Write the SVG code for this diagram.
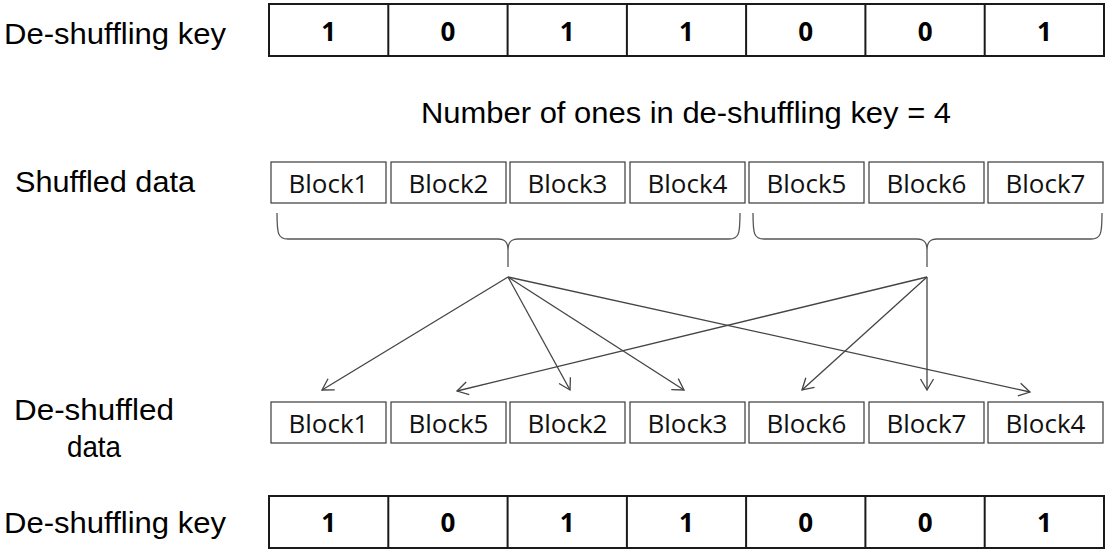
<svg xmlns="http://www.w3.org/2000/svg" width="1106" height="551" viewBox="0 0 1106 551">
<defs>
<style>
.lbl{font-family:"Liberation Sans",Arial,sans-serif;font-size:29px;fill:#000}
.key{fill:#fff;stroke:#1a1a1a;stroke-width:2}
.dig{font-family:"Open Sans","Liberation Sans",sans-serif;font-size:26px;font-weight:bold;fill:#000;text-anchor:middle}
.blk{fill:#fff;stroke:#3a3a3a;stroke-width:1.2}
.bt{font-family:"Open Sans","Liberation Sans",sans-serif;font-size:26px;fill:#111;text-anchor:middle}
.brace{fill:none;stroke:#555;stroke-width:1.3}
.arr{fill:none;stroke:#444;stroke-width:1.3;marker-end:url(#ah)}
</style>
<marker id="ah" markerUnits="userSpaceOnUse" markerWidth="16" markerHeight="16" refX="12" refY="8" orient="auto">
<path d="M1,1.5 L12,8 L1,14.5" fill="none" stroke="#444" stroke-width="1.3"/>
</marker>
</defs>
<rect width="1106" height="551" fill="#fff"/>

<g id="label-key-top"><text class="lbl" x="4" y="44" textLength="222" lengthAdjust="spacingAndGlyphs">De-shuffling key</text></g>
<g id="key-top">
<rect class="key" x="269" y="4" width="835" height="52"/>
<path d="M388.3,4V56M507.6,4V56M626.9,4V56M746.1,4V56M865.4,4V56M984.7,4V56" stroke="#1a1a1a" stroke-width="2"/>
<text class="dig" x="328.6" y="41">1</text>
<text class="dig" x="447.9" y="41">0</text>
<text class="dig" x="567.2" y="41">1</text>
<text class="dig" x="686.5" y="41">1</text>
<text class="dig" x="805.8" y="41">0</text>
<text class="dig" x="925.1" y="41">0</text>
<text class="dig" x="1044.4" y="41">1</text>
</g>

<g id="label-count"><text class="lbl" x="421" y="123" textLength="530" lengthAdjust="spacingAndGlyphs">Number of ones in de-shuffling key = 4</text></g>

<g id="label-shuffled"><text class="lbl" x="15" y="192" textLength="180" lengthAdjust="spacingAndGlyphs">Shuffled data</text></g>
<g id="shuffled">
<rect class="blk" x="271" y="162" width="115" height="41"/><text class="bt" x="328.5" y="193">Block1</text>
<rect class="blk" x="391" y="162" width="115" height="41"/><text class="bt" x="448.5" y="193">Block2</text>
<rect class="blk" x="510" y="162" width="115" height="41"/><text class="bt" x="567.5" y="193">Block3</text>
<rect class="blk" x="630" y="162" width="115" height="41"/><text class="bt" x="687.5" y="193">Block4</text>
<rect class="blk" x="749" y="162" width="115" height="41"/><text class="bt" x="806.5" y="193">Block5</text>
<rect class="blk" x="869" y="162" width="115" height="41"/><text class="bt" x="926.5" y="193">Block6</text>
<rect class="blk" x="988" y="162" width="115" height="41"/><text class="bt" x="1045.5" y="193">Block7</text>
</g>

<g id="braces">
<path class="brace" d="M277,213 C277,234 278,239 288,239 L498,239 C505,239 508,242 508,250 L508,267 M508,250 C508,242 511,239 518,239 L729,239 C739,239 740,234 740,213"/>
<path class="brace" d="M753,213 C753,234 754,239 764,239 L917,239 C924,239 927,242 927,250 L927,267 M927,250 C927,242 930,239 937,239 L1091,239 C1101,239 1102,234 1102,213"/>
</g>

<g id="connectors">
<line class="arr" x1="508" y1="277" x2="322" y2="390"/>
<line class="arr" x1="508" y1="277" x2="570" y2="390"/>
<line class="arr" x1="508" y1="277" x2="684" y2="390"/>
<line class="arr" x1="508" y1="277" x2="1030" y2="392"/>
<line class="arr" x1="927" y1="277" x2="457" y2="391"/>
<line class="arr" x1="927" y1="277" x2="802" y2="390"/>
<line class="arr" x1="927" y1="277" x2="927" y2="390"/>
</g>

<g id="label-deshuffled">
<text class="lbl" x="14" y="420" textLength="160" lengthAdjust="spacingAndGlyphs">De-shuffled</text>
<text class="lbl" x="67" y="457" textLength="54" lengthAdjust="spacingAndGlyphs">data</text>
</g>
<g id="deshuffled">
<rect class="blk" x="271" y="402" width="115" height="41"/><text class="bt" x="328.5" y="433">Block1</text>
<rect class="blk" x="391" y="402" width="115" height="41"/><text class="bt" x="448.5" y="433">Block5</text>
<rect class="blk" x="510" y="402" width="115" height="41"/><text class="bt" x="567.5" y="433">Block2</text>
<rect class="blk" x="630" y="402" width="115" height="41"/><text class="bt" x="687.5" y="433">Block3</text>
<rect class="blk" x="749" y="402" width="115" height="41"/><text class="bt" x="806.5" y="433">Block6</text>
<rect class="blk" x="869" y="402" width="115" height="41"/><text class="bt" x="926.5" y="433">Block7</text>
<rect class="blk" x="988" y="402" width="115" height="41"/><text class="bt" x="1045.5" y="433">Block4</text>
</g>

<g id="label-key-bottom"><text class="lbl" x="4" y="533" textLength="222" lengthAdjust="spacingAndGlyphs">De-shuffling key</text></g>
<g id="key-bottom">
<rect class="key" x="269" y="496" width="835" height="52"/>
<path d="M388.3,496V548M507.6,496V548M626.9,496V548M746.1,496V548M865.4,496V548M984.7,496V548" stroke="#1a1a1a" stroke-width="2"/>
<text class="dig" x="328.6" y="532">1</text>
<text class="dig" x="447.9" y="532">0</text>
<text class="dig" x="567.2" y="532">1</text>
<text class="dig" x="686.5" y="532">1</text>
<text class="dig" x="805.8" y="532">0</text>
<text class="dig" x="925.1" y="532">0</text>
<text class="dig" x="1044.4" y="532">1</text>
</g>
</svg>
